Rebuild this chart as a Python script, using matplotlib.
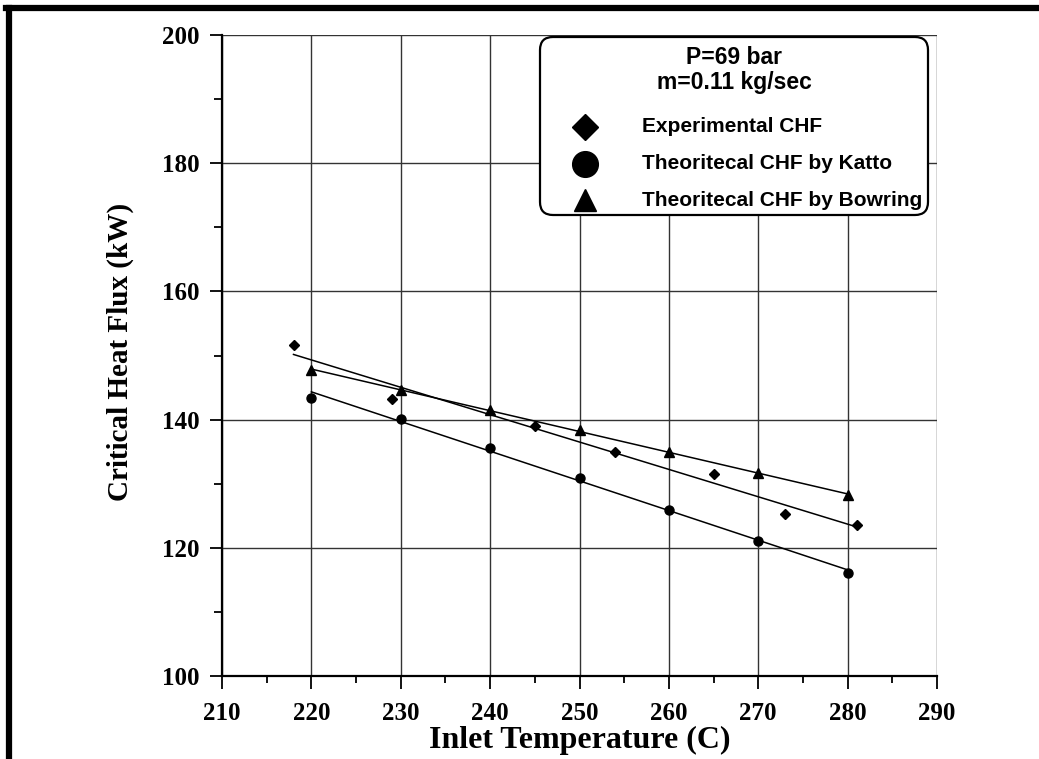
import numpy as np
import matplotlib
matplotlib.use("Agg")
import matplotlib.pyplot as plt
from matplotlib.lines import Line2D
from matplotlib.patches import FancyBboxPatch

# values
exp_t = [218, 229, 245, 254, 265, 273, 281]
exp_chf = [151.6, 143.2, 139.0, 134.9, 131.5, 125.3, 123.6]

katto_t = [220, 230, 240, 250, 260, 270, 280]
katto_chf = [143.4, 140.1, 135.6, 130.9, 125.9, 121.1, 116.1]

bowring_t = [220, 230, 240, 250, 260, 270, 280]
bowring_chf = [147.7, 144.6, 141.5, 138.4, 134.9, 131.7, 128.2]

x_ticks = [210, 220, 230, 240, 250, 260, 270, 280, 290]
y_ticks = [100, 120, 140, 160, 180, 200]

header = ["P=69 bar", "m=0.11 kg/sec"]
labels = ["Experimental CHF", "Theoritecal CHF by Katto", "Theoritecal CHF by Bowring"]

serif = "Liberation Serif"
sans = "Liberation Sans"

W, H = 1039, 759
fig = plt.figure(figsize=(W / 100, H / 100), dpi=100)
ax = fig.add_axes([222 / W, 83 / H, 715 / W, 641 / H])


def fpos(x, y):
    # pixel position from top-left -> figure fraction
    return x / W, 1 - y / H


series = [
    (exp_t, exp_chf, "D", 5.5, 13.5),
    (katto_t, katto_chf, "o", 6.5, 18.5),
    (bowring_t, bowring_chf, "^", 7, 16),
]

for xs, ys, mk, ms, _ in series:
    ax.plot(xs, ys, linestyle="none", marker=mk, ms=ms, color="black", zorder=4)
    # linear trend line
    k, b = np.polyfit(xs, ys, 1)
    xx = np.array([min(xs), max(xs)])
    ax.plot(xx, k * xx + b, color="black", lw=1.1, zorder=3)

ax.set_xlim(210, 290)
ax.set_ylim(100, 200)
ax.set_xticks(x_ticks)
ax.set_yticks(y_ticks)
ax.set_xticks(np.arange(215, 290, 10), minor=True)
ax.set_yticks(np.arange(110, 200, 20), minor=True)

ax.grid(True, which="major", color="#333333", lw=1.0)
ax.set_axisbelow(True)

for s in ["top", "right"]:
    ax.spines[s].set_visible(False)
for s in ["left", "bottom"]:
    ax.spines[s].set_linewidth(1.6)

ax.tick_params(which="major", direction="out", length=9, width=1.3)
ax.tick_params(which="minor", direction="out", length=5, width=1.3)
ax.tick_params(axis="y", which="minor", length=6)
ax.tick_params(axis="x", pad=10)
ax.tick_params(axis="y", pad=7)

for lbl in ax.get_xticklabels() + ax.get_yticklabels():
    lbl.set_fontfamily(serif)
    lbl.set_fontweight("bold")
    lbl.set_fontsize(18)

ax.set_xlabel("Inlet Temperature (C)", fontfamily=serif, fontweight="bold", fontsize=23)
ax.xaxis.set_label_coords(0.5, -(740 - 676) / 641)
ax.xaxis.label.set_va("center")
ax.set_ylabel("Critical Heat Flux (kW)", fontfamily=serif, fontweight="bold", fontsize=21)
ax.yaxis.set_label_coords(-(222 - 120) / 715, (676 - 352) / 641)
ax.yaxis.label.set_va("center")

# legend box drawn by hand, as in the reference
box = FancyBboxPatch((540 / 100, (H - 215) / 100), 388 / 100, 178 / 100,
                     boxstyle="round,pad=0,rounding_size=0.13",
                     transform=fig.dpi_scale_trans, facecolor="white",
                     edgecolor="black", lw=1.6, zorder=10)
fig.add_artist(box)

for i, txt in enumerate(header):
    fig.text(*fpos(734, 58 + 25 * i), txt, ha="center", va="center",
             fontfamily=sans, fontweight="bold", fontsize=16.5, zorder=11)

for i, (s, lab) in enumerate(zip(series, labels)):
    yy = 127 + 36.5 * i
    fig.add_artist(Line2D([fpos(585, yy)[0]], [fpos(585, yy)[1]], marker=s[2], ms=s[4],
                          color="black", linestyle="none", transform=fig.transFigure, zorder=11))
    fig.text(*fpos(642, yy), lab, ha="left", va="center",
             fontfamily=sans, fontweight="bold", fontsize=15, zorder=11)

# thick page border on the left and top
fig.add_artist(Line2D([9 / W, 9 / W], [0, 1 - 8 / H], color="black", lw=4.5, transform=fig.transFigure))
fig.add_artist(Line2D([6 / W, 1], [1 - 8 / H, 1 - 8 / H], color="black", lw=4.5, transform=fig.transFigure))

fig.savefig("out.png", dpi=100)
